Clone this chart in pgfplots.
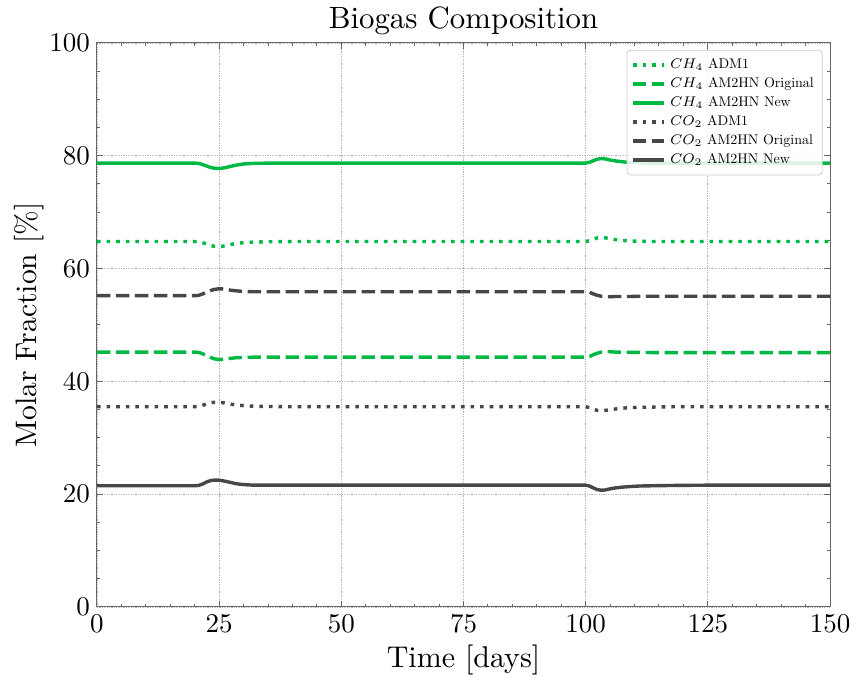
\documentclass[border=0pt]{standalone}
\usepackage{fontspec}
\setmainfont{lmroman10-regular.otf}[ItalicFont=lmroman10-italic.otf, BoldFont=lmroman10-bold.otf]
\usepackage{pgfplots}
\usepackage{pgfplotstable}
\pgfplotsset{compat=1.18}
\definecolor{cgreen}{HTML}{00B945}
\definecolor{cgray}{HTML}{474747}

\pgfplotstableread{
t     ch4adm ch4orig ch4new co2adm co2orig co2new
0     64.8   45.2    78.7   35.5   55.2    21.5
20    64.8   45.2    78.7   35.5   55.2    21.5
20.8  64.75  45.15   78.65  35.55  55.25   21.55
21.6  64.6   44.9    78.45  35.75  55.5    21.8
22.4  64.35  44.6    78.2   36.0   55.8    22.15
23.2  64.1   44.25   77.95  36.2   56.1    22.4
24    63.95  44.0    77.8   36.3   56.3    22.5
24.8  63.9   43.9    77.75  36.3   56.4    22.5
25.6  63.95  43.9    77.8   36.25  56.4    22.4
26.5  64.1   44.0    77.95  36.1   56.3    22.25
27.5  64.3   44.1    78.15  35.95  56.15   22.05
28.5  64.45  44.2    78.35  35.8   56.05   21.85
30    64.6   44.25   78.55  35.7   55.95   21.7
32    64.7   44.3    78.65  35.6   55.9    21.6
35    64.75  44.3    78.7   35.55  55.9    21.6
40    64.8   44.3    78.7   35.5   55.9    21.6
100   64.8   44.3    78.7   35.5   55.9    21.6
100.8 64.95  44.4    78.85  35.35  55.8    21.45
101.6 65.2   44.75   79.15  35.05  55.5    21.1
102.4 65.45  45.0    79.4   34.85  55.25   20.8
103.2 65.5   45.2    79.5   34.8   55.1    20.7
104   65.45  45.25   79.45  34.85  55.05   20.75
105   65.3   45.25   79.25  35.0   55.0    20.95
106   65.15  45.2    79.1   35.1   55.05   21.1
107.5 65.0   45.2    78.95  35.25  55.05   21.25
109   64.9   45.15   78.8   35.35  55.05   21.35
111   64.85  45.15   78.75  35.4   55.1    21.45
114   64.8   45.1    78.7   35.45  55.1    21.5
118   64.8   45.1    78.7   35.5   55.1    21.55
125   64.8   45.1    78.7   35.5   55.1    21.6
150   64.8   45.1    78.7   35.5   55.1    21.6
}\data

\begin{document}
\begin{tikzpicture}
\begin{axis}[
  name=ax,
  scale only axis,
  width=366.5pt, height=282pt,
  xmin=0, xmax=150, ymin=0, ymax=100,
  xtick={0,25,50,75,100,125,150},
  ytick={0,20,40,60,80,100},
  minor x tick num=4,
  minor y tick num=3,
  tick align=inside,
  xtick pos=both, ytick pos=both,
  major tick length=3pt,
  minor tick length=1.5pt,
  tick style={black!60, line width=0.5pt},
  axis line style={black!60, line width=0.5pt},
  ymajorgrids, xmajorgrids,
  major grid style={black!30, line width=0.4pt, dash pattern=on 0.6pt off 0.6pt},
  /pgf/number format/assume math mode=true,
  tick label style={font=\fontsize{13.5}{16}\selectfont},
  title={Biogas Composition},
  title style={font=\fontsize{15.4}{18}\selectfont, at={(axis description cs:0.5,1)}, anchor=base, yshift=1.4pt},
  xlabel={Time [days]},
  xlabel style={font=\fontsize{15}{18}\selectfont, at={(axis description cs:0.5,-0.108)}, anchor=base},
  ylabel={Molar Fraction [\%]},
  ylabel style={font=\fontsize{14.8}{18}\selectfont, at={(axis description cs:-0.082,0.5)}, anchor=base},
  legend image code/.code={\draw[#1] (0cm,0cm) -- (0.55cm,0cm);},
  legend style={at={(axis description cs:0.99,0.988)}, anchor=north east,
    font=\fontsize{7}{8.5}\selectfont, draw=black!20, fill=white, fill opacity=0.85, text opacity=1,
    rounded corners=2pt, row sep=-1pt, inner sep=2.2pt},
  legend cell align=left,
]
\addplot[cgreen, line width=1.7pt, dash pattern=on 1.8pt off 3pt] table[x=t,y=ch4adm] {\data};
\addlegendentry{$CH_4$ ADM1}
\addplot[cgreen, line width=1.7pt, dash pattern=on 6.7pt off 2.8pt] table[x=t,y=ch4orig] {\data};
\addlegendentry{$CH_4$ AM2HN Original}
\addplot[cgreen, line width=1.7pt] table[x=t,y=ch4new] {\data};
\addlegendentry{$CH_4$ AM2HN New}
\addplot[cgray, line width=1.7pt, dash pattern=on 1.8pt off 3pt] table[x=t,y=co2adm] {\data};
\addlegendentry{$CO_2$ ADM1}
\addplot[cgray, line width=1.7pt, dash pattern=on 6.7pt off 2.8pt] table[x=t,y=co2orig] {\data};
\addlegendentry{$CO_2$ AM2HN Original}
\addplot[cgray, line width=1.7pt] table[x=t,y=co2new] {\data};
\addlegendentry{$CO_2$ AM2HN New}
\end{axis}
\pgfresetboundingbox
\path[use as bounding box] ([xshift=-48.5pt,yshift=-35.5pt]ax.south west) rectangle ([xshift=10.5pt,yshift=21.5pt]ax.north east);
\end{tikzpicture}
\end{document}
